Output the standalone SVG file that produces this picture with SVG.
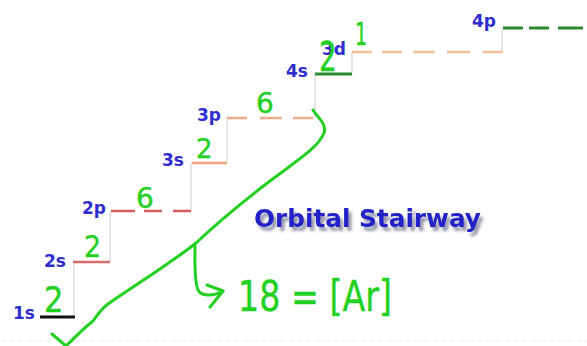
<svg xmlns="http://www.w3.org/2000/svg" width="587" height="346" viewBox="0 0 587 346">
<defs>
<filter id="blur" x="-20%" y="-200%" width="140%" height="500%"><feGaussianBlur stdDeviation="1.2"/></filter>
<filter id="tshadow" x="-10%" y="-50%" width="120%" height="200%">
<feGaussianBlur in="SourceAlpha" stdDeviation="1.8" result="b"/>
<feOffset in="b" dx="3" dy="4" result="o"/>
<feFlood flood-color="#5a5a7a" flood-opacity="0.65"/>
<feComposite in2="o" operator="in" result="s"/>
<feMerge><feMergeNode in="s"/><feMergeNode in="SourceGraphic"/></feMerge>
</filter>
<style>
.lbl{font-family:"DejaVu Sans",sans-serif;font-weight:bold;font-size:17px;fill:#2d2dd2}
.hand{font-family:"DejaVu Sans",sans-serif;fill:#22d022;stroke:#22d022;stroke-width:0.4}
.ink{fill:none;stroke:#22d022;stroke-width:3;stroke-linecap:round;stroke-linejoin:round}
.riser{stroke:#dcdcdc;stroke-width:1.5}
.shadow{stroke:#9a9a9a;stroke-width:3;filter:url(#blur);opacity:0.7}
</style>
</defs>
<rect width="587" height="346" fill="#ffffff"/>
<line x1="0" y1="341" x2="587" y2="341" stroke="#e4ecf4" stroke-width="1" stroke-dasharray="6 3"/>

<g id="risers">
<line class="riser" x1="74" y1="263" x2="74" y2="317"/>
<line class="riser" x1="110" y1="211" x2="110" y2="262"/>
<line class="riser" x1="191" y1="163" x2="191" y2="211"/>
<line class="riser" x1="227" y1="118" x2="227" y2="162"/>
<line class="riser" x1="315" y1="74" x2="315" y2="118"/>
<line class="riser" x1="352" y1="52" x2="352" y2="73"/>
<line class="riser" x1="502" y1="28" x2="502" y2="52"/>
</g>

<g id="level-1s">
<line class="shadow" x1="42" y1="322" x2="76" y2="322"/>
<line x1="40" y1="317" x2="75" y2="317" stroke="#111" stroke-width="3"/>
<text class="lbl" x="13" y="319">1s</text>
</g>
<g id="level-2s">
<line class="shadow" x1="75" y1="267" x2="110" y2="267"/>
<line x1="73" y1="262" x2="110" y2="262" stroke="#d46a6a" stroke-width="2.5"/>
<text class="lbl" x="44" y="267">2s</text>
</g>
<g id="level-2p">
<path class="shadow" d="M112 215H136M145 215H163M174 215H192"/>
<path d="M111 211H135M144 211H162M173 211H191" stroke="#d85a5a" stroke-width="2.5" fill="none"/>
<text class="lbl" x="82" y="214">2p</text>
</g>
<g id="level-3s">
<line class="shadow" x1="193" y1="167" x2="228" y2="167"/>
<line x1="192" y1="163" x2="227" y2="163" stroke="#f0a07c" stroke-width="2.5"/>
<text class="lbl" x="162" y="166">3s</text>
</g>
<g id="level-3p">
<path class="shadow" d="M228 122H248M261 122H283M294 122H314"/>
<path d="M227 118H247M260 118H282M293 118H313" stroke="#f2ab88" stroke-width="2.5" fill="none"/>
<text class="lbl" x="197" y="121">3p</text>
</g>
<g id="level-4s">
<line class="shadow" x1="316" y1="79" x2="353" y2="79"/>
<line x1="315" y1="74" x2="352" y2="74" stroke="#2a8a30" stroke-width="3"/>
<text class="lbl" x="286" y="77">4s</text>
</g>
<g id="level-3d">
<path class="shadow" d="M353 56H373M383 56H403M414 56H436M448 56H471M484 56H504"/>
<path d="M352 52H372M382 52H402M413 52H435M447 52H470M483 52H503" stroke="#f5bf9c" stroke-width="2.5" fill="none"/>
<text class="lbl" x="322" y="55">3d</text>
</g>
<g id="level-4p">
<path class="shadow" d="M504 32H524M530 32H550M559 32H584"/>
<path d="M503 28H523M529 28H549M558 28H583" stroke="#2a8a30" stroke-width="3" fill="none"/>
<text class="lbl" x="472" y="27">4p</text>
</g>

<g id="title">
<text x="254" y="227" font-family="DejaVu Sans,sans-serif" font-weight="bold" font-size="25" fill="#2424c8" filter="url(#tshadow)" textLength="227" lengthAdjust="spacingAndGlyphs">Orbital Stairway</text>
</g>

<g id="annotations">
<text class="hand" x="44" y="312" font-size="36" transform="translate(44 312) scale(0.85 1) translate(-44 -312)">2</text>
<text class="hand" x="84" y="257" font-size="30" transform="translate(84 257) scale(0.9 1) translate(-84 -257)">2</text>
<text class="hand" x="136" y="208" font-size="28">6</text>
<text class="hand" x="196" y="158" font-size="26">2</text>
<text class="hand" x="256" y="113" font-size="28">6</text>
<text class="hand" x="319" y="71" font-size="40" transform="translate(319 71) scale(0.7 1) translate(-319 -71)">2</text>
<text class="hand" x="355" y="45" font-size="32" transform="translate(355 45) scale(0.6 1) translate(-355 -45)">1</text>
<text class="hand" x="238" y="311" font-size="42" textLength="154" lengthAdjust="spacingAndGlyphs" stroke-width="0">18 = [Ar]</text>
</g>

<g id="connectors">
<path class="ink" d="M313 110C318 118 327 124 324 133C318 148 295 162 270 181C245 200 215 225 196 243C175 260 140 282 108 304C100 310 97 316 93 321C84 328 74 338 66 346"/>
<path class="ink" d="M52 334L66 346"/>
<path class="ink" d="M195 246C195 262 194 280 198 290C201 296 212 297 223 291"/>
<path class="ink" d="M207 285L223 291L210 307"/>
</g>
</svg>
